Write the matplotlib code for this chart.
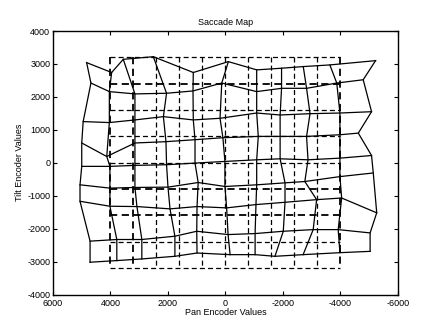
import matplotlib
matplotlib.use("Agg")
import matplotlib.pyplot as plt
import numpy as np

plt.rcParams['font.family'] = ['Liberation Sans', 'DejaVu Sans']
plt.rcParams['axes.unicode_minus'] = False

# measured saccade end points, one list per target row (pan, tilt)
row0_x = [4830, 3960, 3555, 2510, 1120, -100, -1085, -1950, -2705, -3630, -5220]
row0_y = [3040, 2740, 3140, 3220, 2740, 3070, 2820, 2870, 2920, 2970, 3100]
row1_x = [4680, 4040, 3150, 2050, 1130, 130, -1085, -1950, -2820, -3870, -4790]
row1_y = [2420, 2160, 2090, 2110, 2180, 2420, 2160, 2260, 2260, 2420, 2520]
row2_x = [4950, 4040, 3150, 2160, 1120, 190, -1085, -1900, -2940, -3980, -5080]
row2_y = [1250, 1220, 1300, 1400, 1300, 1350, 1510, 1450, 1490, 1510, 1550]
row3_x = [5000, 4130, 3150, 2070, 1060, 90, -1140, -1900, -2820, -3980, -4620]
row3_y = [600, 190, 600, 640, 700, 760, 800, 800, 800, 850, 900]
row4_x = [5000, 4020, 3150, 2050, 1060, 20, -1085, -1900, -2870, -3980, -5080]
row4_y = [-110, -110, -80, -60, -10, 40, 90, 120, 90, 140, 220]
row5_x = [5060, 4020, 3150, 2000, 950, 20, -1085, -2070, -2760, -3980, -5140]
row5_y = [-670, -770, -750, -740, -600, -720, -670, -610, -570, -420, -310]
row6_x = [5060, 4020, 3080, 1930, 990, -40, -1060, -2070, -3170, -4040, -5260]
row6_y = [-1170, -1320, -1330, -1400, -1330, -1370, -1270, -1200, -1120, -1070, -1520]
row7_x = [4710, 3780, 2910, 1760, 1000, -90, -1030, -2010, -3050, -3920, -5030]
row7_y = [-2380, -2330, -2330, -2230, -2080, -2180, -2150, -2080, -2030, -2030, -2130]
row8_x = [4710, 3780, 2910, 1760, 990, -160, -1030, -1720, -2700, -3980, -5030]
row8_y = [-3020, -2970, -2920, -2840, -2740, -2790, -2790, -2840, -2790, -2730, -2690]

# commanded target grid
grid_x = [4000, 3200, 2400, 1600, 800, 0, -800, -1600, -2400, -3200, -4000]
grid_y = [3200, 2400, 1600, 800, 0, -800, -1600, -2400, -3200]
heavy_x = [4000, 3200, -4000]
heavy_y = [2400, -800, -1600]

mesh_x = np.array([row0_x, row1_x, row2_x, row3_x, row4_x,
                   row5_x, row6_x, row7_x, row8_x])
mesh_y = np.array([row0_y, row1_y, row2_y, row3_y, row4_y,
                   row5_y, row6_y, row7_y, row8_y])

fig = plt.figure(figsize=(4.28, 3.33), dpi=100)
ax = fig.add_axes([0.1238, 0.1156, 0.8061, 0.7913])

dash = (4, 2.5)
for gx in grid_x:
    lw = 1.3 if gx in heavy_x else 0.9
    ax.plot([gx, gx], [grid_y[0], grid_y[-1]], color='black', lw=lw,
            linestyle=(0, dash))
for gy in grid_y:
    lw = 1.3 if gy in heavy_y else 0.9
    ax.plot([grid_x[0], grid_x[-1]], [gy, gy], color='black', lw=lw,
            linestyle=(0, dash))

# rows then columns of the saccade mesh
for i in range(mesh_x.shape[0]):
    ax.plot(mesh_x[i], mesh_y[i], color='black', lw=0.9)
for j in range(mesh_x.shape[1]):
    ax.plot(mesh_x[:, j], mesh_y[:, j], color='black', lw=0.9)

ax.set_xlim(6000, -6000)
ax.set_ylim(-4000, 4000)
ax.set_xticks(np.arange(6000, -6001, -2000))
ax.set_yticks(np.arange(-4000, 4001, 1000))
ax.tick_params(direction='in', top=True, right=True, length=3, width=0.8,
               labelsize=6.5)
ax.tick_params(axis='x', pad=3.5)
ax.tick_params(axis='y', pad=2)
for s in ax.spines.values():
    s.set_linewidth(1.0)

ax.set_title('Saccade Map', fontsize=6.5, pad=4)
ax.set_xlabel('Pan Encoder Values', fontsize=6.5, labelpad=0)
ax.set_ylabel('Tilt Encoder Values', fontsize=6.5, labelpad=2)

fig.savefig('out.png', dpi=100)
